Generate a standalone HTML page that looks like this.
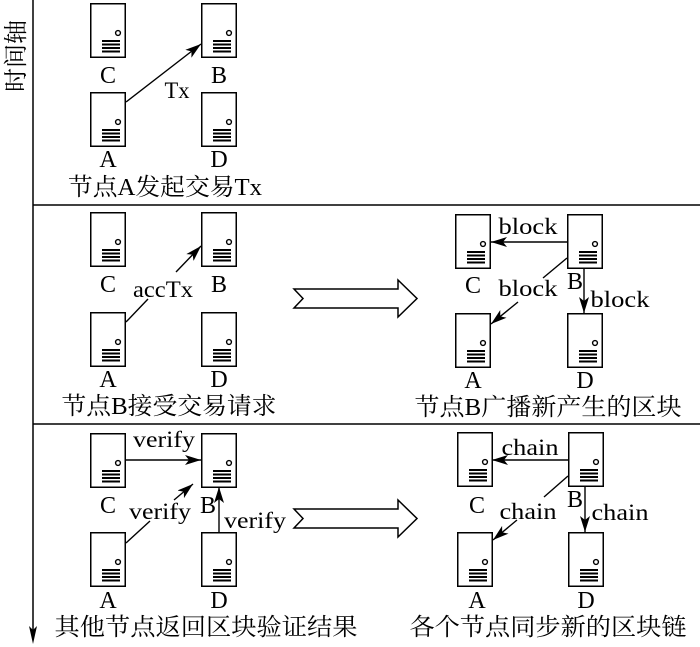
<!DOCTYPE html>
<html><head><meta charset="utf-8"><style>
html,body{margin:0;padding:0;background:#fff;}
svg{display:block;}
text{font-family:"Liberation Serif","Noto Serif CJK SC",serif;fill:#000;}
.l{font-size:24px;text-anchor:middle;}
.e{font-size:23px;text-anchor:middle;}
.c{font-size:24px;text-anchor:middle;}
</style></head><body>
<svg width="700" height="647" viewBox="0 0 700 647" xmlns="http://www.w3.org/2000/svg">
<defs>
<g id="s">
<rect x="0.75" y="0.75" width="34.5" height="53.5" fill="#fff" stroke="#000" stroke-width="1.5"/>
<circle cx="28" cy="30" r="2.4" fill="none" stroke="#000" stroke-width="1.4"/>
<g stroke="#000" stroke-width="2">
<line x1="12" y1="38" x2="30" y2="38"/><line x1="12" y1="41.5" x2="30" y2="41.5"/>
<line x1="12" y1="45" x2="30" y2="45"/><line x1="12" y1="48.5" x2="30" y2="48.5"/>
</g>
</g>
<marker id="a" viewBox="0 0 16 10" refX="16" refY="5" markerWidth="16" markerHeight="10" markerUnits="userSpaceOnUse" orient="auto">
<path d="M0,0 L16,5 L0,10 L4,5 Z" fill="#000"/>
</marker>
</defs>

<!-- axis -->
<line x1="33" y1="0" x2="33" y2="632" stroke="#000" stroke-width="1.5"/>
<path d="M29,626 L33,644 L37,626 L33,630 Z" fill="#000"/>
<text transform="translate(24,56) rotate(-90)" style="font-size:24px;text-anchor:middle">时间轴</text>
<line x1="33" y1="205" x2="700" y2="205" stroke="#000" stroke-width="1.5"/>
<line x1="33" y1="424" x2="700" y2="424" stroke="#000" stroke-width="1.5"/>

<!-- panel 1 -->
<use href="#s" x="90" y="3"/><use href="#s" x="201" y="3"/>
<use href="#s" x="90" y="92"/><use href="#s" x="201" y="92"/>
<text class="l" x="108" y="83">C</text><text class="l" x="219" y="83">B</text>
<text class="l" x="108" y="167">A</text><text class="l" x="219" y="167">D</text>
<line x1="126" y1="102" x2="201" y2="44" stroke="#000" stroke-width="1.4" marker-end="url(#a)"/>
<text class="e" x="177" y="98" textLength="25" lengthAdjust="spacingAndGlyphs">Tx</text>
<text class="c" x="165" y="195" textLength="194" lengthAdjust="spacingAndGlyphs">节点A发起交易Tx</text>

<!-- panel 2 left -->
<use href="#s" x="90" y="212"/><use href="#s" x="201" y="212"/>
<use href="#s" x="90" y="312"/><use href="#s" x="201" y="312"/>
<text class="l" x="108" y="292">C</text><text class="l" x="219" y="292">B</text>
<text class="l" x="108" y="387">A</text><text class="l" x="219" y="387">D</text>
<line x1="126" y1="322" x2="148" y2="299" stroke="#000" stroke-width="1.4"/>
<line x1="176" y1="272" x2="201" y2="246" stroke="#000" stroke-width="1.4" marker-end="url(#a)"/>
<text class="e" x="163" y="297" textLength="60" lengthAdjust="spacingAndGlyphs">accTx</text>
<text class="c" x="169" y="414" textLength="215" lengthAdjust="spacingAndGlyphs">节点B接受交易请求</text>

<!-- hollow arrows -->
<path d="M294,289 L398,289 L398,280 L417,298.5 L398,317 L398,308 L294,308 L303,298.5 Z" fill="#fff" stroke="#000" stroke-width="1.5"/>
<path d="M294,509 L398,509 L398,500 L417,518.5 L398,537 L398,528 L294,528 L303,518.5 Z" fill="#fff" stroke="#000" stroke-width="1.5"/>

<!-- panel 2 right -->
<use href="#s" x="455" y="214"/><use href="#s" x="567" y="214"/>
<use href="#s" x="455" y="313"/><use href="#s" x="567" y="313"/>
<text class="l" x="473" y="293">C</text><text class="l" x="575" y="289">B</text>
<text class="l" x="473" y="388">A</text><text class="l" x="585" y="388">D</text>
<line x1="567" y1="242" x2="491" y2="242" stroke="#000" stroke-width="1.4" marker-end="url(#a)"/>
<text class="e" x="528" y="234" textLength="59" lengthAdjust="spacingAndGlyphs">block</text>
<line x1="567" y1="258" x2="543" y2="278" stroke="#000" stroke-width="1.4"/>
<line x1="518" y1="302" x2="491" y2="324" stroke="#000" stroke-width="1.4" marker-end="url(#a)"/>
<text class="e" x="528" y="296" textLength="59" lengthAdjust="spacingAndGlyphs">block</text>
<line x1="584" y1="269" x2="584" y2="313" stroke="#000" stroke-width="1.4" marker-end="url(#a)"/>
<text class="e" x="620" y="307" textLength="59" lengthAdjust="spacingAndGlyphs">block</text>
<text class="c" x="548" y="415" textLength="267" lengthAdjust="spacingAndGlyphs">节点B广播新产生的区块</text>

<!-- panel 3 left -->
<use href="#s" x="90" y="433"/><use href="#s" x="201" y="433"/>
<use href="#s" x="90" y="532"/><use href="#s" x="201" y="532"/>
<text class="l" x="108" y="513">C</text><text class="l" x="208" y="513">B</text>
<text class="l" x="108" y="608">A</text><text class="l" x="219" y="608">D</text>
<line x1="126" y1="460" x2="201" y2="460" stroke="#000" stroke-width="1.4" marker-end="url(#a)"/>
<text class="e" x="164" y="447" textLength="62" lengthAdjust="spacingAndGlyphs">verify</text>
<line x1="126" y1="543" x2="150" y2="521" stroke="#000" stroke-width="1.4"/>
<line x1="174" y1="500" x2="193" y2="484" stroke="#000" stroke-width="1.4" marker-end="url(#a)"/>
<text class="e" x="160" y="519" textLength="62" lengthAdjust="spacingAndGlyphs">verify</text>
<line x1="219" y1="532" x2="219" y2="487" stroke="#000" stroke-width="1.4" marker-end="url(#a)"/>
<text class="e" x="255" y="528" textLength="62" lengthAdjust="spacingAndGlyphs">verify</text>
<text class="c" x="206" y="635" textLength="303" lengthAdjust="spacingAndGlyphs">其他节点返回区块验证结果</text>

<!-- panel 3 right -->
<use href="#s" x="457" y="432"/><use href="#s" x="568" y="432"/>
<use href="#s" x="457" y="532"/><use href="#s" x="568" y="532"/>
<text class="l" x="477" y="513">C</text><text class="l" x="575" y="507">B</text>
<text class="l" x="477" y="608">A</text><text class="l" x="586" y="608">D</text>
<line x1="568" y1="460" x2="492" y2="460" stroke="#000" stroke-width="1.4" marker-end="url(#a)"/>
<text class="e" x="530" y="455" textLength="57" lengthAdjust="spacingAndGlyphs">chain</text>
<line x1="568" y1="476" x2="544" y2="497" stroke="#000" stroke-width="1.4"/>
<line x1="517" y1="520" x2="493" y2="540" stroke="#000" stroke-width="1.4" marker-end="url(#a)"/>
<text class="e" x="528" y="519" textLength="57" lengthAdjust="spacingAndGlyphs">chain</text>
<line x1="585" y1="487" x2="585" y2="532" stroke="#000" stroke-width="1.4" marker-end="url(#a)"/>
<text class="e" x="620" y="520" textLength="57" lengthAdjust="spacingAndGlyphs">chain</text>
<text class="c" x="548" y="635" textLength="277" lengthAdjust="spacingAndGlyphs">各个节点同步新的区块链</text>
</svg>
</body></html>
